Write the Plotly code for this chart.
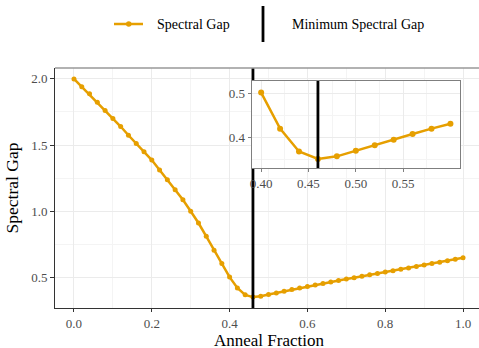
import numpy as np
import plotly.graph_objects as go

anneal_fraction = [round(0.02 * i, 2) for i in range(51)]
spectral_gap = [
    2.000, 1.940, 1.887, 1.824, 1.762, 1.700, 1.640, 1.574, 1.512, 1.449,
    1.387, 1.312, 1.237, 1.162, 1.087, 1.000, 0.911, 0.810, 0.705, 0.605,
    0.502, 0.420, 0.368, 0.351, 0.357, 0.370, 0.382, 0.395, 0.408, 0.420,
    0.431, 0.443, 0.454, 0.465, 0.476, 0.487, 0.497, 0.508, 0.519, 0.529,
    0.540, 0.550, 0.561, 0.571, 0.582, 0.593, 0.604, 0.615, 0.626, 0.637,
    0.648,
]
main_xticks = [0.0, 0.2, 0.4, 0.6, 0.8, 1.0]
main_yticks = [0.5, 1.0, 1.5, 2.0]
inset_xticks = [0.40, 0.45, 0.50, 0.55]
inset_yticks = [0.4, 0.5]
inset_window = (0.40, 0.60)

ORANGE = "#E69F00"
FONT = "Liberation Serif"
TICKC = "#4d4d4d"

x = np.array(anneal_fraction)
y = np.array(spectral_gap)
imin = int(np.argmin(y))
x_min = x[imin]

ylo, yhi = y.min(), y.max()
pad = 0.05 * (yhi - ylo)
y_range = [ylo - pad, yhi + pad]

mask = (x >= inset_window[0] - 1e-9) & (x <= inset_window[1] + 1e-9)
xi, yi = x[mask], y[mask]

fig = go.Figure()
fig.add_trace(go.Scatter(x=x, y=y, mode="lines+markers",
                         line=dict(color=ORANGE, width=2.5),
                         marker=dict(color=ORANGE, size=5),
                         xaxis="x", yaxis="y", showlegend=False))
fig.add_trace(go.Scatter(x=[x_min, x_min], y=y_range, mode="lines",
                         line=dict(color="black", width=2.8),
                         xaxis="x", yaxis="y", showlegend=False))
fig.add_trace(go.Scatter(x=xi, y=yi, mode="lines+markers",
                         line=dict(color=ORANGE, width=2.5),
                         marker=dict(color=ORANGE, size=6),
                         xaxis="x2", yaxis="y2", showlegend=False))
fig.add_trace(go.Scatter(x=[x_min, x_min], y=[0.3305, 0.529], mode="lines",
                         line=dict(color="black", width=2.8),
                         xaxis="x2", yaxis="y2", showlegend=False))

tickfont = dict(family=FONT, size=13, color=TICKC)
grid = dict(showgrid=True, gridcolor="#ebebeb", gridwidth=1)

fig.update_layout(
    width=479, height=348,
    margin=dict(l=55, r=0, t=68, b=40, autoexpand=False),
    paper_bgcolor="white", plot_bgcolor="white",
    font=dict(family=FONT, color="black"),
    xaxis=dict(domain=[0, 1], range=[-0.0488, 1.041], tickvals=main_xticks,
               tickformat=".1f", tickfont=tickfont, ticks="outside", ticklen=3,
               tickcolor="#333333", showline=True, linecolor="#333333", linewidth=1,
               zeroline=False, automargin=False, **grid,
               minor=dict(dtick=0.1, tick0=0.1, showgrid=True, gridcolor="#f4f4f4", ticks="")),
    yaxis=dict(domain=[0, 1], range=y_range, tickvals=main_yticks,
               tickformat=".1f", tickfont=tickfont, ticks="outside", ticklen=4,
               tickcolor="#333333", showline=True, linecolor="#333333", linewidth=1,
               zeroline=False, automargin=False, **grid,
               minor=dict(dtick=0.5, tick0=0.25, showgrid=True, gridcolor="#f4f4f4", ticks=""),
               title=dict(text="Spectral Gap", font=dict(family=FONT, size=17.5, color="black"),
                          standoff=8)),
    xaxis2=dict(domain=[0.4639, 0.955], range=[0.39, 0.61], anchor="y2",
                tickvals=inset_xticks, tickformat=".2f", tickfont=tickfont,
                ticks="outside", ticklen=3, tickcolor="#7f7f7f",
                showline=True, mirror=True, linecolor="#7f7f7f", linewidth=1,
                zeroline=False, automargin=False, **grid,
                minor=dict(dtick=0.05, tick0=0.425, showgrid=True, gridcolor="#f4f4f4", ticks="")),
    yaxis2=dict(domain=[0.5833, 0.947], range=[0.3305, 0.529], anchor="x2",
                tickvals=inset_yticks, tickformat=".1f", tickfont=tickfont,
                ticks="outside", ticklen=3, tickcolor="#7f7f7f",
                showline=True, mirror=True, linecolor="#7f7f7f", linewidth=1,
                zeroline=False, automargin=False, **grid,
                minor=dict(dtick=0.1, tick0=0.35, showgrid=True, gridcolor="#f4f4f4", ticks="")),
)

# top frame line of main panel
fig.add_shape(type="line", xref="paper", yref="paper", x0=0, x1=1, y0=1, y1=1,
              line=dict(color="#999999", width=1.5), layer="above")

# manual legend (paper coords: width 424 px from x=55, height 240 px from y=68)
def px(xp):
    return (xp - 55) / 424.0

def py(yp):
    return (308.0 - yp) / 240.0

# x-axis title
fig.add_annotation(xref="paper", yref="paper", x=px(269), y=py(340.5), text="Anneal Fraction",
                   showarrow=False, xanchor="center", yanchor="middle",
                   font=dict(family=FONT, size=17, color="black"))

fig.add_shape(type="line", xref="paper", yref="paper", x0=px(114), x1=px(143),
              y0=py(24), y1=py(24), line=dict(color=ORANGE, width=2.5))
fig.add_shape(type="circle", xref="paper", yref="paper", x0=px(126), x1=px(131.5),
              y0=py(26.7), y1=py(21.3), line=dict(color=ORANGE, width=0), fillcolor=ORANGE)
fig.add_shape(type="line", xref="paper", yref="paper", x0=px(263), x1=px(263),
              y0=py(6), y1=py(42), line=dict(color="black", width=2.8))
fig.add_annotation(xref="paper", yref="paper", x=px(155), y=py(24), text="Spectral Gap",
                   showarrow=False, xanchor="left", yanchor="middle",
                   font=dict(family=FONT, size=14, color="black"))
fig.add_annotation(xref="paper", yref="paper", x=px(290), y=py(24), text="Minimum Spectral Gap",
                   showarrow=False, xanchor="left", yanchor="middle",
                   font=dict(family=FONT, size=14, color="black"))

fig.write_html("out.html", config={"displayModeBar": False},
               post_script="document.body.style.margin='0';document.body.style.overflow='hidden';")
